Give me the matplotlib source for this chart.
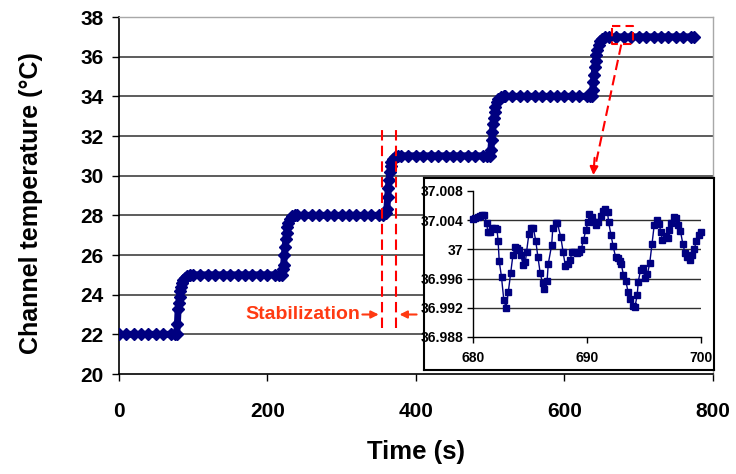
import matplotlib
matplotlib.use("Agg")
import matplotlib.pyplot as plt

# ---------------- data ----------------
time_s = [0, 10, 20, 30, 40, 50, 60, 70, 76,
          78, 79, 80, 81, 82, 83, 84, 85, 87, 89, 92, 96,
          100, 110, 120, 130, 140, 150, 160, 170, 180, 190, 200, 210, 216,
          220, 221, 222, 223, 224, 225, 226, 227, 228, 230, 233, 237,
          240, 250, 260, 270, 280, 290, 300, 310, 320, 330, 340, 350, 356,
          360, 361, 362, 363, 364, 365, 366, 367, 369, 372, 376,
          380, 390, 400, 410, 420, 430, 440, 450, 460, 470, 480, 490, 496,
          500, 501, 502, 503, 504, 505, 506, 507, 509, 511, 514, 518,
          520, 530, 540, 550, 560, 570, 580, 590, 600, 610, 620, 630, 634,
          637, 638, 639, 640, 641, 642, 643, 644, 646, 648, 651, 655,
          660, 670, 680, 690, 700, 710, 720, 730, 740, 750, 760, 770, 775]
temp_c = [22.0, 22.0, 22.0, 22.0, 22.0, 22.0, 22.0, 22.0, 22.0,
          22.0, 22.5, 23.3, 23.6, 23.9, 24.2, 24.4, 24.6, 24.75, 24.85, 24.95, 25.0,
          25.0, 25.0, 25.0, 25.0, 25.0, 25.0, 25.0, 25.0, 25.0, 25.0, 25.0, 25.0, 25.0,
          25.0, 25.3, 25.5, 26.0, 26.4, 26.8, 27.1, 27.4, 27.6, 27.8, 27.95, 28.0,
          28.0, 28.0, 28.0, 28.0, 28.0, 28.0, 28.0, 28.0, 28.0, 28.0, 28.0, 28.0, 28.0,
          28.1, 28.3, 28.9, 29.4, 29.8, 30.2, 30.5, 30.7, 30.85, 30.95, 31.0,
          31.0, 31.0, 31.0, 31.0, 31.0, 31.0, 31.0, 31.0, 31.0, 31.0, 31.0, 31.0, 31.0,
          31.0, 31.3, 31.8, 32.2, 32.6, 32.9, 33.2, 33.45, 33.7, 33.85, 33.95, 34.0,
          34.0, 34.0, 34.0, 34.0, 34.0, 34.0, 34.0, 34.0, 34.0, 34.0, 34.0, 34.0, 34.0,
          34.0, 34.3, 34.7, 35.1, 35.5, 35.8, 36.1, 36.35, 36.6, 36.8, 36.9, 36.97,
          37.0, 37.0, 37.0, 37.0, 37.0, 37.0, 37.0, 37.0, 37.0, 37.0, 37.0, 37.0, 37.0]

inset_time = [680.0, 680.2, 680.4, 680.6, 680.8, 681.0, 681.2, 681.3, 681.5, 681.7,
              681.9, 682.1, 682.2, 682.3, 682.5, 682.7, 682.9, 683.1, 683.3, 683.5,
              683.7, 683.9, 684.0, 684.2, 684.4, 684.6, 684.7, 684.9, 685.1, 685.3,
              685.5, 685.7, 685.9, 686.1, 686.2, 686.5, 686.6, 686.9, 687.0, 687.3,
              687.4, 687.7, 687.9, 688.1, 688.3, 688.5, 688.7, 688.9, 689.1, 689.3,
              689.5, 689.7, 689.9, 690.1, 690.2, 690.4, 690.6, 690.8, 691.0, 691.2,
              691.4, 691.6, 691.8, 691.9, 692.1, 692.3, 692.5, 692.7, 692.9, 693.0,
              693.2, 693.4, 693.6, 693.8, 694.0, 694.2, 694.4, 694.5, 694.7, 694.9,
              695.1, 695.3, 695.5, 695.7, 695.9, 696.1, 696.3, 696.5, 696.6, 696.9,
              697.1, 697.2, 697.4, 697.6, 697.8, 698.0, 698.2, 698.4, 698.6, 698.8,
              699.0, 699.2, 699.4, 699.6, 699.8, 700.0]
inset_temp = [37.0041, 37.0043, 37.0044, 37.0046, 37.0047, 37.0047, 37.0036, 37.0024, 37.0024, 37.0029,
              37.0029, 37.0028, 37.0012, 36.9984, 36.9962, 36.9931, 36.9920, 36.9942, 36.9967, 36.9992,
              37.0003, 37.0002, 36.9999, 36.9992, 36.9979, 36.9983, 36.9997, 37.0021, 37.0029, 37.0029,
              37.0012, 36.9989, 36.9967, 36.9954, 36.9946, 36.9957, 36.9980, 37.0006, 37.0029, 37.0036,
              37.0036, 37.0017, 36.9997, 36.9977, 36.9980, 36.9985, 36.9996, 36.9997, 36.9995, 36.9996,
              37.0001, 37.0013, 37.0027, 37.0037, 37.0048, 37.0044, 37.0038, 37.0033, 37.0038, 37.0046,
              37.0053, 37.0055, 37.0051, 37.0037, 37.0020, 37.0004, 36.9990, 36.9988, 36.9984, 36.9980,
              36.9965, 36.9957, 36.9942, 36.9932, 36.9922, 36.9921, 36.9937, 36.9956, 36.9972, 36.9974,
              36.9961, 36.9966, 36.9981, 37.0007, 37.0034, 37.0040, 37.0035, 37.0024, 37.0013, 37.0018,
              37.0016, 37.0027, 37.0036, 37.0044, 37.0043, 37.0034, 37.0025, 37.0008, 36.9995, 36.9989,
              36.9986, 36.9993, 37.0000, 37.0012, 37.0020, 37.0024]

main_xticks = [0, 200, 400, 600, 800]
main_yticks = [20, 22, 24, 26, 28, 30, 32, 34, 36, 38]
inset_xticks = [680, 690, 700]
inset_yticks = [36.988, 36.992, 36.996, 37.0, 37.004, 37.008]
inset_yticklabels = ["36.988", "36.992", "36.996", "37", "37.004", "37.008"]
stab_lines = [354, 373]

# ---------------- style ----------------
plt.rcParams['font.family'] = ['Liberation Sans', 'DejaVu Sans']
plt.rcParams['font.weight'] = 'bold'
NAVY = '#000080'
RED = '#FF0000'
TXT_RED = '#FF3A12'

W, H = 736, 474
fig = plt.figure(figsize=(W / 100, H / 100), dpi=100)

def px_rect(x0, y0, x1, y1):
    return [x0 / W, 1 - y1 / H, (x1 - x0) / W, (y1 - y0) / H]

ax = fig.add_axes(px_rect(118.7, 17, 713, 374))
ax.set_xlim(0, 800)
ax.set_ylim(20, 38)
ax.set_xticks(main_xticks)
ax.set_yticks(main_yticks)
for y in main_yticks[1:-1]:
    ax.axhline(y, color='#303030', lw=1.1, zorder=1)
for s in ['top', 'right']:
    ax.spines[s].set_color('#a8a8a8')
    ax.spines[s].set_linewidth(1.0)
for s in ['left', 'bottom']:
    ax.spines[s].set_color('black')
    ax.spines[s].set_linewidth(1.2)
ax.tick_params(axis='both', direction='out', length=5, width=1.0, labelsize=15)
ax.tick_params(axis='x', pad=15)
ax.tick_params(axis='y', pad=6)
for lab in ax.get_xticklabels() + ax.get_yticklabels():
    lab.set_fontweight('bold')

ax.plot(time_s, temp_c, color=NAVY, lw=5, marker='D', markersize=6.6,
        markeredgecolor=NAVY, markerfacecolor=NAVY, zorder=3,
        solid_joinstyle='round', solid_capstyle='round')

ax.set_xlabel('Time (s)', fontsize=18.5, fontweight='bold')
ax.xaxis.set_label_coords(0.5, -0.185)
ax.set_ylabel('Channel temperature (\u00b0C)', fontsize=18, fontweight='bold')
ax.yaxis.set_label_coords(-0.128, 0.478)

dash = (0, (5, 2.5))
for xv in stab_lines:
    ax.plot([xv, xv], [22.3, 32.3], color=RED, lw=1.5, linestyle=dash, zorder=5)

ax.text(325, 23.0, 'Stabilization', ha='right', va='center', fontsize=14,
        fontweight='bold', color=TXT_RED, zorder=6)
ax.annotate('', xy=(350, 23.0), xytext=(328, 23.0),
            arrowprops=dict(arrowstyle='-|>', color=TXT_RED, lw=1.5,
                            mutation_scale=11, shrinkA=0, shrinkB=0), zorder=6)
ax.annotate('', xy=(378, 23.0), xytext=(401, 23.0),
            arrowprops=dict(arrowstyle='-|>', color=TXT_RED, lw=1.5,
                            mutation_scale=11, shrinkA=0, shrinkB=0), zorder=6)

# zoom box
bx = [664, 692, 692, 664, 664]
by = [37.55, 37.55, 36.64, 36.64, 37.55]
ax.plot(bx, by, color=RED, lw=1.5, linestyle=(0, (4, 2.5)), zorder=5)
ax.plot([676.5, 640.5], [36.61, 30.3], color=RED, lw=1.5, linestyle=dash, zorder=5)
ax.annotate('', xy=(639.0, 30.03), xytext=(640.6, 30.9),
            arrowprops=dict(arrowstyle='-|>', color=RED, lw=1.5,
                            mutation_scale=12, shrinkA=0, shrinkB=0), zorder=6)

# inset frame
box = fig.add_axes(px_rect(424, 178, 714, 370))
box.set_xticks([]); box.set_yticks([])
box.set_facecolor('white')
for s in box.spines.values():
    s.set_color('black'); s.set_linewidth(1.5)
box.set_zorder(4)

ins = fig.add_axes(px_rect(473, 191, 701, 337))
ins.set_zorder(5)
ins.set_xlim(680, 700)
ins.set_ylim(36.988, 37.008)
ins.set_xticks(inset_xticks)
ins.set_yticks(inset_yticks)
ins.set_yticklabels(inset_yticklabels)
ins.set_facecolor('none')
for y in inset_yticks[1:-1]:
    ins.axhline(y, color='#303030', lw=1.0, zorder=1)
ins.spines['top'].set_visible(False)
ins.spines['right'].set_visible(False)
ins.spines['left'].set_linewidth(1.0)
ins.spines['bottom'].set_linewidth(1.0)
ins.tick_params(axis='both', direction='out', length=4, width=1.0, labelsize=10)
ins.tick_params(axis='x', pad=6)
ins.tick_params(axis='y', pad=3)
for lab in ins.get_xticklabels() + ins.get_yticklabels():
    lab.set_fontweight('bold')
ins.plot(inset_time, inset_temp, color=NAVY, lw=1.0, marker='s', markersize=4,
         markeredgecolor=NAVY, markerfacecolor=NAVY, zorder=3, clip_on=False)

fig.savefig('out.png', dpi=100)
